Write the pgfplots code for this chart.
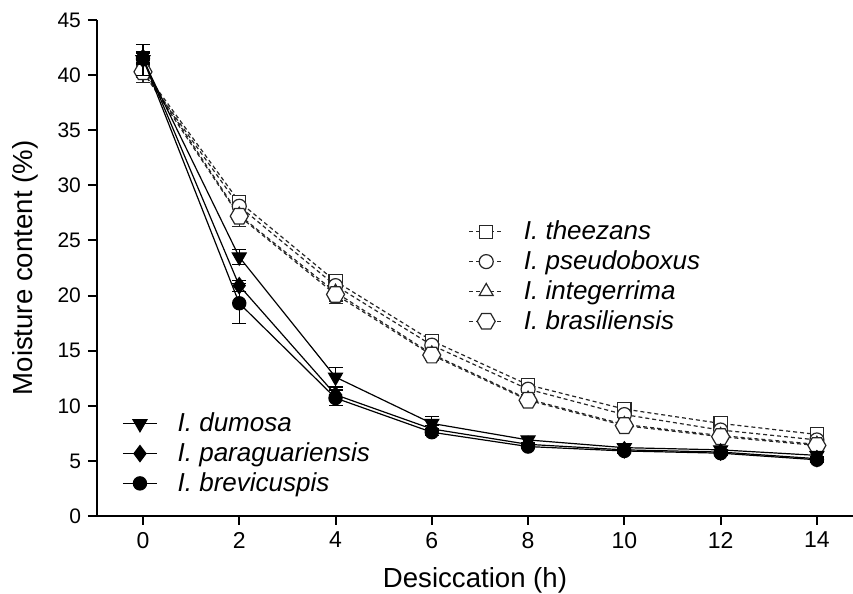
\documentclass[border=0pt]{standalone}
\usepackage{fontspec}
\setmainfont{Liberation Sans}
\usepackage{pgfplots}
\usepackage{pgfplotstable}
\pgfplotsset{compat=1.18}

\pgfdeclareplotmark{hexagon}{%
  \pgfpathmoveto{\pgfqpointpolar{0}{\pgfplotmarksize}}%
  \pgfpathlineto{\pgfqpointpolar{60}{\pgfplotmarksize}}%
  \pgfpathlineto{\pgfqpointpolar{120}{\pgfplotmarksize}}%
  \pgfpathlineto{\pgfqpointpolar{180}{\pgfplotmarksize}}%
  \pgfpathlineto{\pgfqpointpolar{240}{\pgfplotmarksize}}%
  \pgfpathlineto{\pgfqpointpolar{300}{\pgfplotmarksize}}%
  \pgfpathclose
  \pgfusepathqfillstroke}

\pgfplotstableread{
x  y     e
0  40.5  0.5
2  28.5  0.5
4  21.3  0.5
6  15.9  0.4
8  11.9  0.4
10 9.7   0.3
12 8.4   0.3
14 7.4   0.3
}\theezans
\pgfplotstableread{
x  y     e
0  40.3  1.0
2  28.1  0.6
4  20.9  0.5
6  15.5  0.4
8  11.5  0.3
10 9.2   0.3
12 7.8   0.3
14 6.9   0.3
}\pseudoboxus
\pgfplotstableread{
x  y     e
0  40.5  0.5
2  27.3  1.0
4  20.3  0.8
6  14.7  0.5
8  10.6  0.4
10 8.3   0.3
12 7.3   0.3
14 6.5   0.3
}\integerrima
\pgfplotstableread{
x  y     e
0  40.3  0.5
2  27.2  0.9
4  20.1  0.8
6  14.6  0.5
8  10.5  0.4
10 8.2   0.3
12 7.2   0.3
14 6.4   0.3
}\brasiliensis
\pgfplotstableread{
x  y     e
0  41.4  1.4
2  23.5  0.7
4  12.6  0.9
6  8.4   0.6
8  6.9   0.3
10 6.2   0.3
12 6.0   0.3
14 5.5   0.3
}\dumosa
\pgfplotstableread{
x  y     e
0  41.6  0.5
2  20.9  0.5
4  11.0  0.5
6  7.9   0.3
8  6.5   0.2
10 6.0   0.2
12 5.8   0.2
14 5.2   0.2
}\paraguariensis
\pgfplotstableread{
x  y     e
0  41.5  0.5
2  19.3  1.8
4  10.7  0.7
6  7.6   0.3
8  6.3   0.2
10 5.9   0.2
12 5.7   0.2
14 5.1   0.2
}\brevicuspis

\pgfplotsset{
  base/.style={
    scale only axis, width=378pt, height=248pt,
    xmin=-0.955, xmax=14.75, ymin=0, ymax=45,
    clip=false,
    axis lines=left, axis line style={line width=1.3pt, -},
    xtick={0,2,...,14}, ytick={0,5,...,45},
    tick align=outside, major tick length=4.5pt,
    tick style={line width=1pt, black},
    xticklabel style={font=\fontsize{11.5}{13}\selectfont},
    yticklabel style={font=\fontsize{10.5}{12}\selectfont},
    /pgf/number format/assume math mode=true,
    xlabel={Desiccation (h)}, ylabel={Moisture content (\%)},
    label style={font=\fontsize{13.8}{16}\selectfont},
    xlabel style={at={(axis description cs:0.5,-0.129)}, anchor=center},
    ylabel style={at={(axis description cs:-0.095,0.5)}, anchor=center},
    legend cell align=left,
    legend style={draw=none, fill=none, font=\fontsize{13}{15}\selectfont\itshape,
      row sep=0pt, /tikz/every odd column/.append style={column sep=8pt}},
  },
  dsh/.style={black!85, line width=0.6pt, dash pattern=on 2pt off 1.5pt,
    mark options={solid, line width=0.6pt, draw=black!85, fill=white},
    error bars/y dir=both, error bars/y explicit,
    error bars/error bar style={solid, line width=0.6pt, black!85},
    error bars/error mark options={rotate=90, mark size=3.5pt, line width=0.6pt, black!85}},
  sld/.style={black, line width=0.6pt,
    mark options={solid, fill=black},
    error bars/y dir=both, error bars/y explicit,
    error bars/error bar style={solid, line width=0.6pt},
    error bars/error mark options={rotate=90, mark size=3.5pt, line width=0.6pt}},
}

\begin{document}
\begin{tikzpicture}
\begin{axis}[base, hide axis,
  legend style={at={(0.483,0.612)}, anchor=north west}]
\addplot[dsh, mark=square*, mark size=3.3pt] table[x=x, y=y, y error=e] {\theezans};
\addlegendentry{I. theezans}
\addplot[dsh, mark=*, mark size=3.5pt] table[x=x, y=y, y error=e] {\pseudoboxus};
\addlegendentry{I. pseudoboxus}
\addplot[dsh, mark=triangle*, mark size=4pt] table[x=x, y=y, y error=e] {\integerrima};
\addlegendentry{I. integerrima}
\addplot[dsh, mark=hexagon, mark size=4.5pt] table[x=x, y=y, y error=e] {\brasiliensis};
\addlegendentry{I. brasiliensis}
\end{axis}
\begin{axis}[base,
  legend style={at={(0.025,0.225)}, anchor=north west}]
\addplot[sld, mark=triangle*, mark size=4pt, mark options={rotate=180}] table[x=x, y=y, y error=e] {\dumosa};
\addlegendentry{I. dumosa}
\addplot[sld, mark=diamond*, mark size=4pt] table[x=x, y=y, y error=e] {\paraguariensis};
\addlegendentry{I. paraguariensis}
\addplot[sld, mark=*, mark size=3.3pt] table[x=x, y=y, y error=e] {\brevicuspis};
\addlegendentry{I. brevicuspis}
\end{axis}
\pgfresetboundingbox
\path (-48.5pt,-39pt) rectangle (378pt,258pt);
\end{tikzpicture}
\end{document}
